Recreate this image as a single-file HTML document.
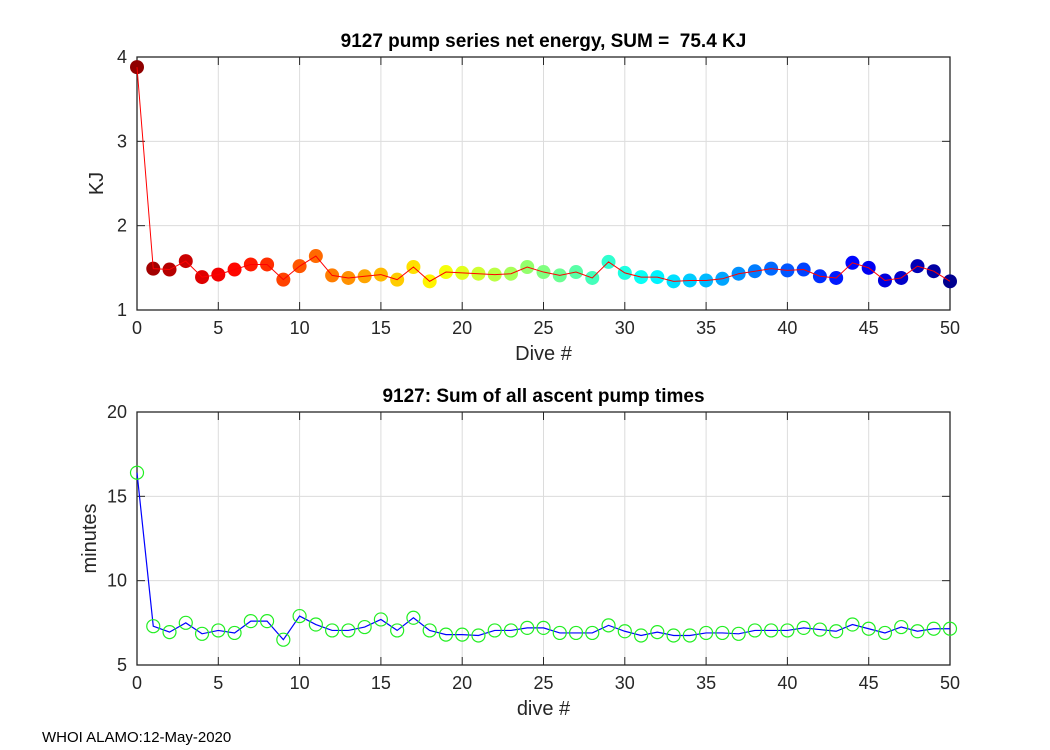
<!DOCTYPE html>
<html><head><meta charset="utf-8"><style>
body{margin:0;background:#fff;}
svg{display:block;font-family:"Liberation Sans",Arial,sans-serif;}
text{white-space:pre;}
</style></head><body>
<svg id="fig" width="1050" height="750"></svg>
<script>
const dives=[...Array(51).keys()];
const energyKJ=[3.88,1.49,1.48,1.58,1.39,1.42,1.48,1.54,1.54,1.36,1.52,1.64,1.41,1.38,1.40,1.42,1.36,1.51,1.34,1.45,1.44,1.43,1.42,1.43,1.51,1.45,1.41,1.45,1.38,1.57,1.44,1.39,1.39,1.34,1.35,1.35,1.37,1.43,1.46,1.49,1.47,1.48,1.40,1.38,1.56,1.50,1.35,1.38,1.52,1.46,1.34];
const pumpMinutes=[16.4,7.3,6.95,7.5,6.85,7.05,6.9,7.6,7.6,6.5,7.9,7.4,7.05,7.05,7.25,7.7,7.05,7.8,7.05,6.8,6.8,6.75,7.05,7.05,7.2,7.2,6.9,6.9,6.9,7.35,7.0,6.75,6.95,6.75,6.75,6.9,6.9,6.85,7.05,7.05,7.05,7.2,7.1,7.0,7.4,7.15,6.9,7.25,7.0,7.15,7.15];
const xTicks=[0,5,10,15,20,25,30,35,40,45,50];
const yTicksTop=[1,2,3,4];
const yTicksBot=[5,10,15,20];
const NS="http://www.w3.org/2000/svg";
const svg=document.getElementById('fig');
function el(t,a,p){const e=document.createElementNS(NS,t);for(const k in a)e.setAttribute(k,a[k]);(p||svg).appendChild(e);return e;}
function jet(t){const r=Math.min(Math.max(Math.min(4*t-1.5,-4*t+4.5),0),1);const g=Math.min(Math.max(Math.min(4*t-0.5,-4*t+3.5),0),1);const b=Math.min(Math.max(Math.min(4*t+0.5,-4*t+2.5),0),1);return `rgb(${Math.round(r*255)},${Math.round(g*255)},${Math.round(b*255)})`;}
function panel(name,top,ymin,ymax,yticks,title,ylabel,xlabel,vals,kind){
  const L=137,R=950,T=top,B=top+253;
  const xs=v=>L+(v-0)/(50-0)*(R-L);
  const ys=v=>B-(v-ymin)/(ymax-ymin)*(B-T);
  const g=el('g',{});
  
  
  el('rect',{x:L,y:T,width:R-L,height:B-T,fill:'#fff'},g);
  xTicks.forEach(v=>{const l=el('line',{x1:xs(v),x2:xs(v),y1:T,y2:B,stroke:'#dcdcdc','stroke-width':1},g);
    el('line',{x1:xs(v),x2:xs(v),y1:B,y2:B-8,stroke:'#262626'},g);el('line',{x1:xs(v),x2:xs(v),y1:T,y2:T+8,stroke:'#262626'},g);
    const t=el('text',{x:xs(v),y:B+24,'text-anchor':'middle','font-size':18,fill:'#262626'},g);t.textContent=v;});
  yticks.forEach(v=>{const l=el('line',{x1:L,x2:R,y1:ys(v),y2:ys(v),stroke:'#dcdcdc','stroke-width':1},g);
    el('line',{x1:L,x2:L+8,y1:ys(v),y2:ys(v),stroke:'#262626'},g);el('line',{x1:R,x2:R-8,y1:ys(v),y2:ys(v),stroke:'#262626'},g);
    const t=el('text',{x:L-10,y:ys(v)+6,'text-anchor':'end','font-size':18,fill:'#262626'},g);t.textContent=v;});
  el('rect',{x:L,y:T,width:R-L,height:B-T,fill:'none',stroke:'#262626','stroke-width':1.3},g);
  const pts=vals.map((v,i)=>xs(dives[i])+','+ys(v)).join(' ');
  if(kind==='top'){
    vals.forEach((v,i)=>{const c=el('circle',{cx:xs(dives[i]),cy:ys(v),r:7,fill:jet(1-i/50*0.97-0.015)},g);});
    const pl=el('polyline',{points:pts,fill:'none',stroke:'#ff0000','stroke-width':1},g);
  } else {
    const pl=el('polyline',{points:pts,fill:'none',stroke:'#0000ff','stroke-width':1.2},g);
    vals.forEach((v,i)=>{const c=el('circle',{cx:xs(dives[i]),cy:ys(v),r:6.5,fill:'none',stroke:'#22ee22','stroke-width':1.2},g);});
  }
  const tt=el('text',{x:(L+R)/2,y:T-10,'text-anchor':'middle','font-size':19,'font-weight':'bold',fill:'#000'},g);tt.textContent=title;
  const yl=el('text',{x:0,y:0,'text-anchor':'middle','font-size':20,fill:'#262626',transform:`translate(${ylabel==='KJ'?103:96},${(T+B)/2}) rotate(-90)`},g);yl.textContent=ylabel;
  const xl=el('text',{x:(L+R)/2,y:B+50,'text-anchor':'middle','font-size':20,fill:'#262626'},g);xl.textContent=xlabel;
}
panel('energy-chart',57,1,4,yTicksTop,'9127 pump series net energy, SUM =  75.4 KJ','KJ','Dive #',energyKJ,'top');
panel('pump-time-chart',412,5,20,yTicksBot,'9127: Sum of all ascent pump times','minutes','dive #',pumpMinutes,'bot');
const ft=el('text',{x:42,y:742,'font-size':15,fill:'#000'});ft.textContent='WHOI ALAMO:12-May-2020';


</script>
</body></html>
